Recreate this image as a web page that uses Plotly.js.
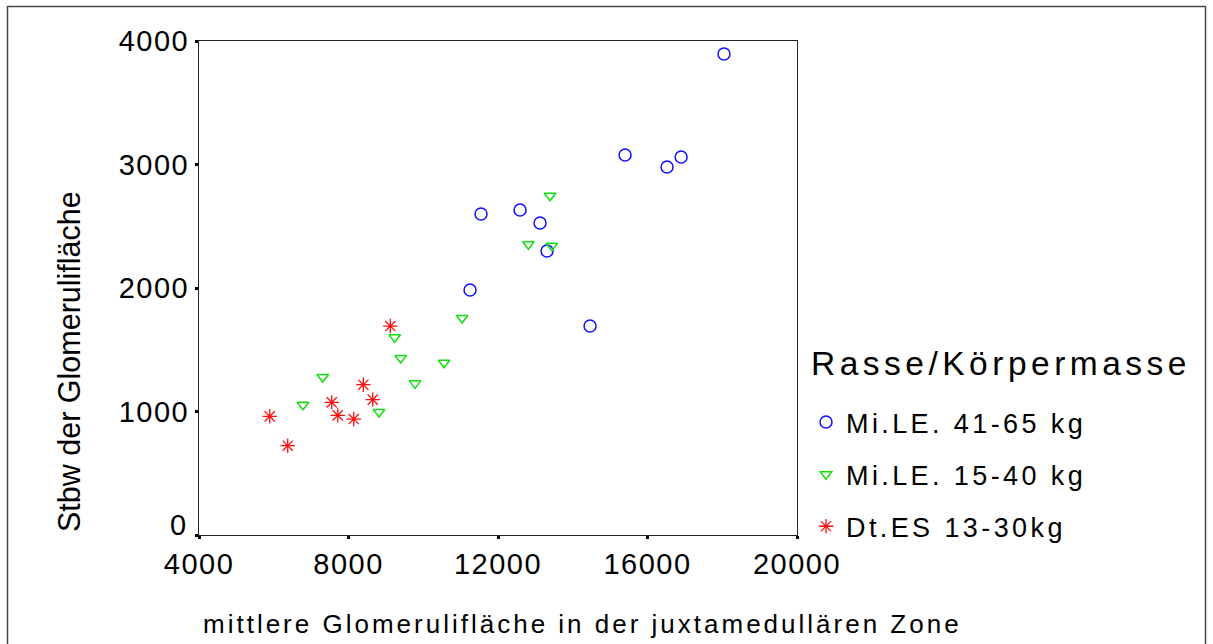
<!DOCTYPE html>
<html>
<head>
<meta charset="utf-8">
<script src="https://cdn.plot.ly/plotly-3.0.1.min.js"></script>
<style>
  html, body { margin: 0; padding: 0; background: #fff; }
  #chart { width: 1213px; height: 644px; }
  .legendtext { letter-spacing: 3.4px; }
  .xtick text, .ytick text { letter-spacing: 1.5px; }
</style>
</head>
<body>
<div id="chart"></div>
<script>
// Series: Rasse/Körpermasse groups
const seriesNames = ["Mi.LE. 41-65 kg", "Mi.LE. 15-40 kg", "Dt.ES 13-30kg"];

const grossX = [18047, 15400, 16524, 16900, 11546, 12590, 13125, 13312, 11252, 14463];
const grossY = [3895, 3077, 2980, 3061, 2599, 2632, 2526, 2300, 1984, 1692];

const mittelX = [13393, 12812, 13438, 11038, 9237, 9397, 10556, 7310, 9780, 6783, 8817];
const mittelY = [2747, 2354, 2342, 1757, 1601, 1433, 1395, 1279, 1228, 1055, 996];

const kleinX = [9119, 8397, 7551, 8648, 5892, 7712, 8140, 6374];
const kleinY = [1692, 1217, 1074, 1096, 961, 969, 939, 723];

const xTicks = [4000, 8000, 12000, 16000, 20000];
const yTicks = [0, 1000, 2000, 3000, 4000];

const xTitle = "mittlere Glomerulifläche in der juxtamedullären Zone";
const yTitle = "Stbw der Glomerulifläche";
const legendTitle = "Rasse/Körpermasse";

const FONT = "Arial, 'Liberation Sans', sans-serif";

const traces = [
  {
    x: grossX, y: grossY, name: seriesNames[0], mode: "markers", type: "scatter",
    legendgroup: "a",
    marker: { symbol: "circle-open", size: 12, color: "#1010ff", line: { width: 1.5, color: "#1010ff" } }
  },
  {
    x: mittelX, y: mittelY, name: seriesNames[1], mode: "markers", type: "scatter",
    legendgroup: "b",
    marker: { symbol: "triangle-down-open", size: 10, color: "#10e010", line: { width: 1.5, color: "#10e010" } }
  },
  {
    x: kleinX, y: kleinY, name: seriesNames[2], mode: "markers", type: "scatter",
    legendgroup: "c",
    marker: { symbol: "asterisk-open", size: 12, color: "#ff1010", line: { width: 1.3, color: "#ff1010" } }
  }
];

const L = 199, R = 797, T = 41, B = 535;
const pw = R - L, ph = B - T;
const px = v => (v - L) / pw;
const py = v => (B - v) / ph;

// the lowest y tick label sits a little above its tick (as in the reference)
const yTickText = yTicks.map(v => v === 0 ? "" : String(v));

const layout = {
  width: 1213, height: 644,
  margin: { l: L, r: 1213 - R, t: T, b: 644 - B, pad: 0 },
  paper_bgcolor: "#fff", plot_bgcolor: "#fff",
  font: { family: FONT, color: "#000" },
  showlegend: true,
  xaxis: {
    range: [4000, 20000], tickvals: xTicks, ticktext: xTicks.map(String),
    showgrid: false, zeroline: false,
    showline: true, linecolor: "#222", linewidth: 1, mirror: true,
    ticks: "outside", ticklen: 3, tickwidth: 3, tickcolor: "#000",
    tickfont: { size: 29, family: FONT, color: "#000" }
  },
  yaxis: {
    range: [0, 4000], tickvals: yTicks, ticktext: yTickText,
    showgrid: false, zeroline: false,
    showline: true, linecolor: "#222", linewidth: 1, mirror: true,
    ticks: "outside", ticklen: 3, tickwidth: 3, tickcolor: "#000",
    tickfont: { size: 29, family: FONT, color: "#000" }
  },
  legend: {
    x: px(806), xanchor: "left",
    y: py(398), yanchor: "top",
    traceorder: "grouped", tracegroupgap: 14,
    font: { size: 27, family: FONT, color: "#000" },
    bgcolor: "rgba(0,0,0,0)", borderwidth: 0
  },
  annotations: [
    {
      text: '<span style="letter-spacing:3px">' + xTitle + '</span>',
      xref: "paper", yref: "paper",
      x: px(201), y: py(624), xanchor: "left", yanchor: "middle",
      showarrow: false, font: { size: 26, family: FONT, color: "#000" }
    },
    {
      text: yTitle, xref: "paper", yref: "paper",
      x: px(69), y: py(362), xanchor: "center", yanchor: "middle",
      textangle: -90, showarrow: false, font: { size: 30.5, family: FONT, color: "#000" }
    },
    {
      text: '<span style="letter-spacing:4.5px">' + legendTitle + '</span>',
      xref: "paper", yref: "paper",
      x: px(809), y: py(363), xanchor: "left", yanchor: "middle",
      showarrow: false, font: { size: 33.5, family: FONT, color: "#000" }
    },
    {
      text: String(yTicks[0]), xref: "paper", yref: "y",
      x: px(188), y: yTicks[0], xanchor: "right", yanchor: "middle", yshift: 10,
      showarrow: false, font: { size: 29, family: FONT, color: "#000" }
    }
  ],
  shapes: [
    {
      type: "rect", xref: "paper", yref: "paper",
      x0: px(7.5), x1: px(1205.5), y0: py(660), y1: py(6.5),
      line: { color: "#444", width: 1.5 }, fillcolor: "rgba(0,0,0,0)", layer: "above"
    }
  ]
};

Plotly.newPlot("chart", traces, layout, { displayModeBar: false, staticPlot: true });
</script>
</body>
</html>
